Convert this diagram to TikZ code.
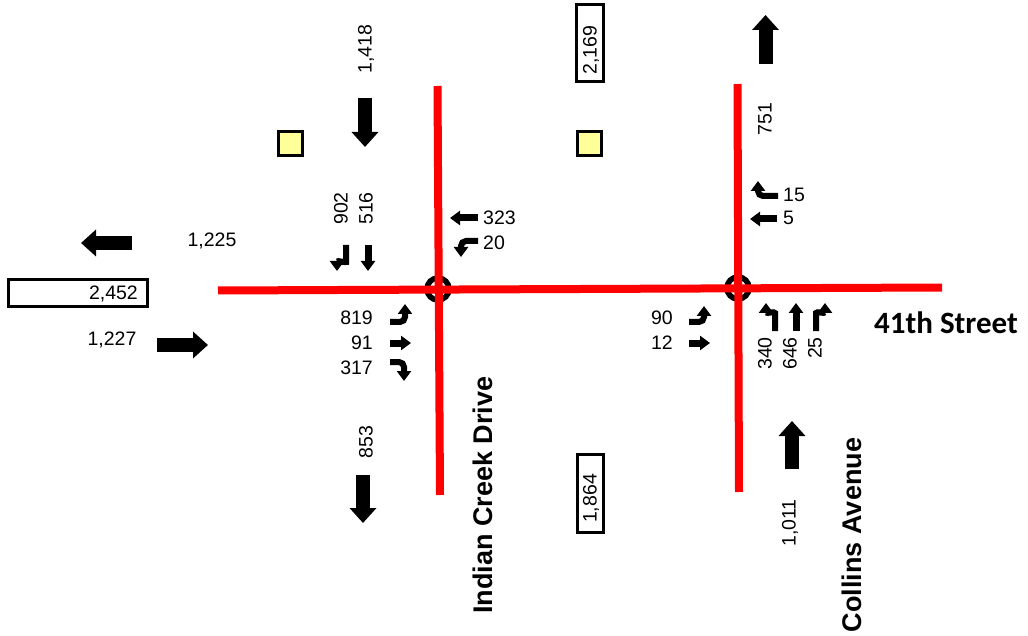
\documentclass[tikz,border=0pt]{standalone}
\usepackage{fontspec}
\setmainfont{Liberation Sans}
\newfontfamily\calfont{Carlito}
\usetikzlibrary{arrows.meta}
\definecolor{padyellow}{HTML}{FFFF99}

\begin{document}
\begin{tikzpicture}[x=1pt, y=-1pt,
    num/.style={inner sep=0pt, font=\fontsize{19.5}{23}\selectfont},
    street/.style={inner sep=0pt, font=\fontsize{27}{32}\selectfont\bfseries},
    road/.style={red, line width=8pt},
    ring/.style={line width=5.5pt},
    bigarrow/.style={line width=14pt, -{Triangle[width=26pt,length=15pt]}},
    lane/.style={line width=7pt, -{Triangle[width=14pt,length=10pt]}},
    turn/.style={line width=6pt, rounded corners=5pt, -{Triangle[width=14pt,length=10pt]}},
    valbox/.style={draw, line width=3pt, inner sep=0pt},
    pad/.style={draw, line width=3pt, fill=padyellow, minimum size=24pt, inner sep=0pt}]
    \useasboundingbox (0,0) rectangle (1028,636);

    % Intersections
    \coordinate (icd) at (438,289);
    \coordinate (col) at (738,288);
    \draw[ring] (icd) circle (11);
    \draw[ring] (col) circle (11);

    % Roads
    \draw[road] (218,290.5) -- (942,287.5);
    \draw[road] (437.5,86) -- (440,495);
    \draw[road] (737.5,84) -- (739,492);

    % Street names
    \node[street, rotate=90] (icdname) at (483,495) {Indian Creek Drive};
    \node[street, rotate=90] (colname) at (852,535) {Collins Avenue};
    \node[inner sep=0pt, anchor=base west, font=\fontsize{31}{36}\selectfont\calfont\bfseries] (stname) at (874,334) {41th Street};

    % Pads and totals
    \node[pad] (padw) at (290.5,144) {};
    \node[pad] (pade) at (589.5,144) {};
    \node[valbox, minimum width=77pt, minimum height=27pt, rotate=90] (totn) at (589.5,43.5) {};
    \node[num, rotate=90] at (591,50) {2,169};
    \node[valbox, minimum width=78pt, minimum height=26pt, rotate=90] (tots) at (590,493) {};
    \node[num, rotate=90] at (591,498.5) {1,864};
    \node[valbox, minimum width=139pt, minimum height=27pt] (totw) at (77.5,293.5) {};
    \node[num, anchor=east] at (138,293.5) {2,452};

    % Link volumes
    \draw[bigarrow] (365,98) -- (365,147);
    \node[num, rotate=90] (sbin) at (366,49) {1,418};
    \draw[bigarrow] (765.5,64) -- (765.5,15);
    \node[num, rotate=90] (nbout) at (765,119) {751};
    \draw[bigarrow] (132,243) -- (81,243);
    \node[num] (wbout) at (212,241) {1,225};
    \draw[bigarrow] (157,345) -- (208,345);
    \node[num] (ebin) at (112,340) {1,227};
    \draw[bigarrow] (363,475) -- (363,523);
    \node[num, rotate=90] (sbout) at (366,442) {853};
    \draw[bigarrow] (792,469) -- (792,421);
    \node[num, rotate=90] (nbin) at (790,523) {1,011};

    % Indian Creek Drive turning volumes
    \draw[turn] (346,245) -- (346,257) .. controls (346,263) and (337,260) .. (337,271);
    \node[num, rotate=90, anchor=west] at (341,225) {902};
    \draw[lane] (368,245) -- (368,271);
    \node[num, rotate=90, anchor=west] at (366,225) {516};
    \draw[lane] (478,218) -- (450,218);
    \node[num, anchor=west] at (483,218) {323};
    \draw[turn] (478,241) -- (461,241) -- (461,257);
    \node[num, anchor=west] at (483,243) {20};
    \draw[turn] (390,322) -- (405,322) -- (405,304);
    \node[num, anchor=east] at (373,318) {819};
    \draw[lane] (390,343) -- (411,343);
    \node[num, anchor=east] at (373,343) {91};
    \draw[turn] (390,362) -- (404,362) -- (404,381);
    \node[num, anchor=east] at (373,368) {317};

    % Collins Avenue turning volumes
    \draw[turn] (778,196) -- (758,196) -- (758,181);
    \node[num, anchor=west] at (783,195) {15};
    \draw[lane] (777,219) -- (750,219);
    \node[num, anchor=west] at (783,218) {5};
    \draw[turn] (689,322) -- (704,322) -- (704,306);
    \node[num, anchor=east] at (673,318) {90};
    \draw[lane] (689,343) -- (710,343);
    \node[num, anchor=east] at (673,343) {12};
    \draw[turn] (775,331) -- (775,318) .. controls (775,311) and (766,314) .. (766,303);
    \node[num, rotate=90, anchor=east] at (765,337) {340};
    \draw[lane] (796,331) -- (796,303);
    \node[num, rotate=90, anchor=east] at (790,337) {646};
    \draw[turn] (816,331) -- (816,318) .. controls (816,311) and (825,314) .. (825,303);
    \node[num, rotate=90, anchor=east] at (815,337) {25};
\end{tikzpicture}
\end{document}
